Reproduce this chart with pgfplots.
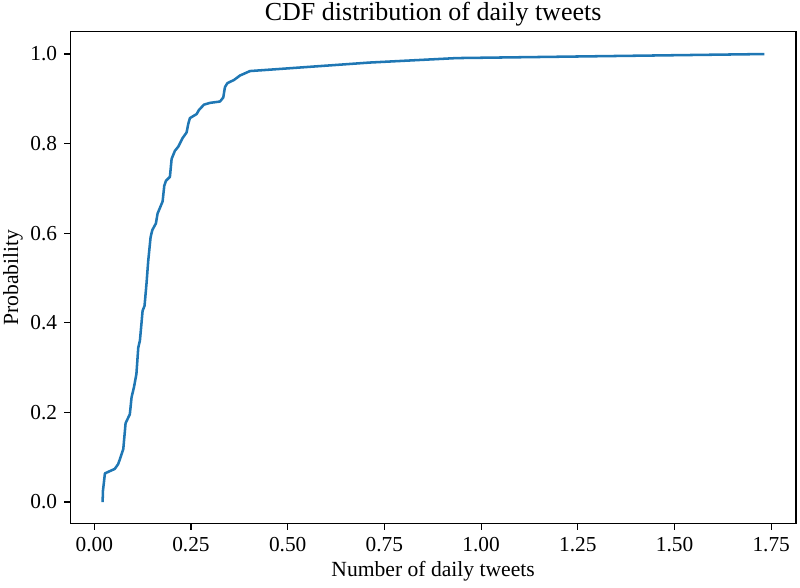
\documentclass[border=0pt]{standalone}
\usepackage{pgfplots}
\pgfplotsset{compat=1.18}
\usepackage{fontspec}
\setmainfont{Liberation Serif}
\definecolor{c0}{HTML}{1F77B4}
\begin{document}
\fontsize{16}{19}\selectfont
\begin{tikzpicture}
\begin{axis}[
  scale only axis,
  width=544.3pt, height=369pt,
  xmin=-0.062, xmax=1.814,
  ymin=-0.0484, ymax=1.0498,
  xtick={0,0.25,0.5,0.75,1,1.25,1.5,1.75},
  ytick={0,0.2,0.4,0.6,0.8,1.0},
  xticklabel style={/pgf/number format/.cd, fixed, fixed zerofill, precision=2},
  yticklabel style={/pgf/number format/.cd, fixed, fixed zerofill, precision=1},
  scaled x ticks=false,
  /pgf/number format/assume math mode=true,
  tick align=outside,
  tick pos=left,
  major tick length=4.4pt,
  tick style={black, line width=0.9pt},
  axis line style={line width=0.9pt},
  every axis plot/.append style={line width=1.9pt},
  title={CDF distribution of daily tweets},
  title style={at={(0.5,1.0061)}, anchor=base, font=\fontsize{19.5}{23}\selectfont},
  xlabel={Number of daily tweets},
  xlabel style={at={(0.5,-0.1077)}, anchor=base, font=\fontsize{16.2}{19}\selectfont},
  ylabel={Probability},
  ylabel style={at={(-0.0717,0.5)}, anchor=base, font=\fontsize{16.2}{19}\selectfont},
  ticklabel style={font=\fontsize{16}{19}\selectfont},
]
\addplot[c0, line join=round] coordinates {
(0.0216,0.000) (0.0225,0.025) (0.0276,0.064) (0.053,0.074) (0.062,0.085)
(0.0707,0.107) (0.075,0.118) (0.081,0.176) (0.092,0.196) (0.0965,0.234)
(0.1026,0.256) (0.109,0.286) (0.1138,0.345) (0.118,0.360) (0.125,0.427)
(0.130,0.438) (0.135,0.487) (0.1396,0.539) (0.1456,0.591) (0.150,0.607)
(0.1594,0.622) (0.1637,0.644) (0.1767,0.671) (0.181,0.706) (0.1853,0.717)
(0.1956,0.726) (0.200,0.766) (0.2085,0.784) (0.217,0.793) (0.228,0.812)
(0.2387,0.825) (0.243,0.844) (0.2473,0.857) (0.2646,0.866) (0.2706,0.875)
(0.2835,0.887) (0.299,0.891) (0.325,0.894) (0.3335,0.903) (0.3378,0.926)
(0.344,0.935) (0.361,0.942) (0.3766,0.952) (0.4025,0.962) (0.712,0.981)
(0.937,0.991) (1.732,1.000)
};
\node[anchor=base east, font=\fontsize{16.2}{19}\selectfont] at (rel axis cs:1,-0.1077) {1e6};
\end{axis}
\pgfresetboundingbox
\path (current axis.south west)+(-52.7pt,-47.5pt) rectangle ([xshift=3pt,yshift=23.8pt]current axis.north east);
\end{tikzpicture}
\end{document}
